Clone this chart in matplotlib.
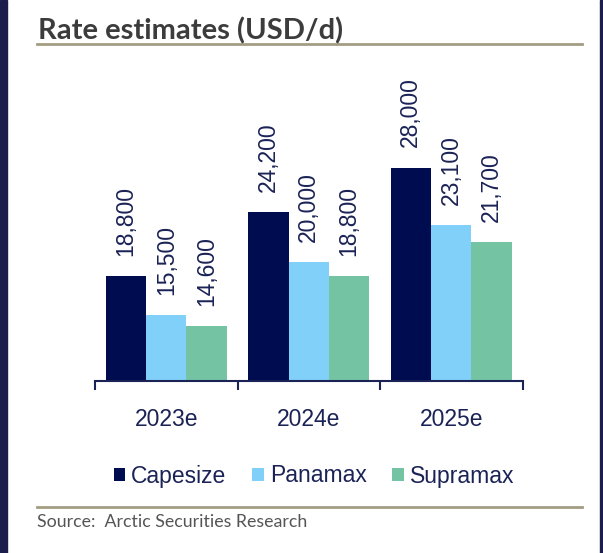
import matplotlib
matplotlib.use("Agg")
import matplotlib.pyplot as plt
from matplotlib.patches import Patch, Rectangle
from matplotlib.lines import Line2D
import numpy as np

categories = ["2023e", "2024e", "2025e"]
series_names = ["Capesize", "Panamax", "Supramax"]
capesize = [18800, 24200, 28000]
panamax = [15500, 20000, 23100]
supramax = [14600, 18800, 21700]
series_values = [capesize, panamax, supramax]
colors = ["#000c50", "#80d0fa", "#74c4a4"]
text_color = "#1b2356"

W, H = 603, 553
fig = plt.figure(figsize=(W / 100, H / 100), dpi=100)
fig.patch.set_facecolor("white")

# dark side bands
fig.patches.append(Rectangle((0, 0), 7 / W, 1, transform=fig.transFigure, color="#1b1e4b", zorder=0))
fig.patches.append(Rectangle((600 / W, 0), 3 / W, 1, transform=fig.transFigure, color="#1b1e4b", zorder=0))

ax_left, ax_right = 95, 522.5
ax_top, ax_bottom = 61.0, 380.5
ax = fig.add_axes([ax_left / W, 1 - ax_bottom / H, (ax_right - ax_left) / W, (ax_bottom - ax_top) / H])
ax.set_facecolor("none")

x = np.arange(len(categories))
bw = 0.284
offsets = [-bw, 0, bw]
for vals, off, col in zip(series_values, offsets, colors):
    bars = ax.bar(x + off, vals, width=bw, color=col, bottom=0, zorder=2)
    for b, v in zip(bars, vals):
        ax.annotate(f"{v:,}", (b.get_x() + b.get_width() / 2, v), xytext=(0, 14.5),
                    textcoords="offset points", rotation=90, ha="center", va="bottom",
                    fontsize=16.5, color=text_color, family="Liberation Sans")

ax.set_ylim(10000, 37000)
ax.set_xlim(-0.5, 2.5)
for s in ["top", "right", "left"]:
    ax.spines[s].set_visible(False)
ax.spines["bottom"].set_color(text_color)
ax.spines["bottom"].set_linewidth(1.5)
ax.set_yticks([])
ax.set_xticks([-0.5, 0.5, 1.5, 2.5])
ax.set_xticklabels([])
ax.set_xticks(x, minor=True)
ax.set_xticklabels(categories, minor=True, fontsize=16.5, color=text_color, family="Liberation Sans")
ax.tick_params(axis="x", which="major", length=6.5, width=1.5, color=text_color, direction="out")
ax.tick_params(axis="x", which="minor", length=0, pad=19.5)

handles = [Patch(facecolor=c, edgecolor="none", label=n) for c, n in zip(colors, series_names)]
leg = fig.legend(handles=handles, loc="center", bbox_to_anchor=(314 / W, 1 - 476 / H), ncol=3,
                 frameon=False, handlelength=0.52, handleheight=0.52, handletextpad=0.25,
                 columnspacing=1.12, prop={"family": "Liberation Sans", "size": 16.5})
for t in leg.get_texts():
    t.set_color(text_color)

# title and rules
fig.text(38 / W, 1 - 39 / H, "Rate estimates (USD/d)", fontsize=21, fontweight="bold",
         color="#3c3c3c", family="Lato", va="baseline", ha="left")
fig.add_artist(Line2D([37 / W, 582 / W], [1 - 44 / H, 1 - 44 / H], transform=fig.transFigure,
                      color="#a39d82", lw=2))
fig.add_artist(Line2D([37 / W, 582 / W], [1 - 507 / H, 1 - 507 / H], transform=fig.transFigure,
                      color="#a39d82", lw=2))
fig.text(37 / W, 1 - 527 / H, "Source:  Arctic Securities Research", fontsize=12.8,
         color="#555555", family="Lato", va="baseline", ha="left")

fig.savefig("out.png", dpi=100)
